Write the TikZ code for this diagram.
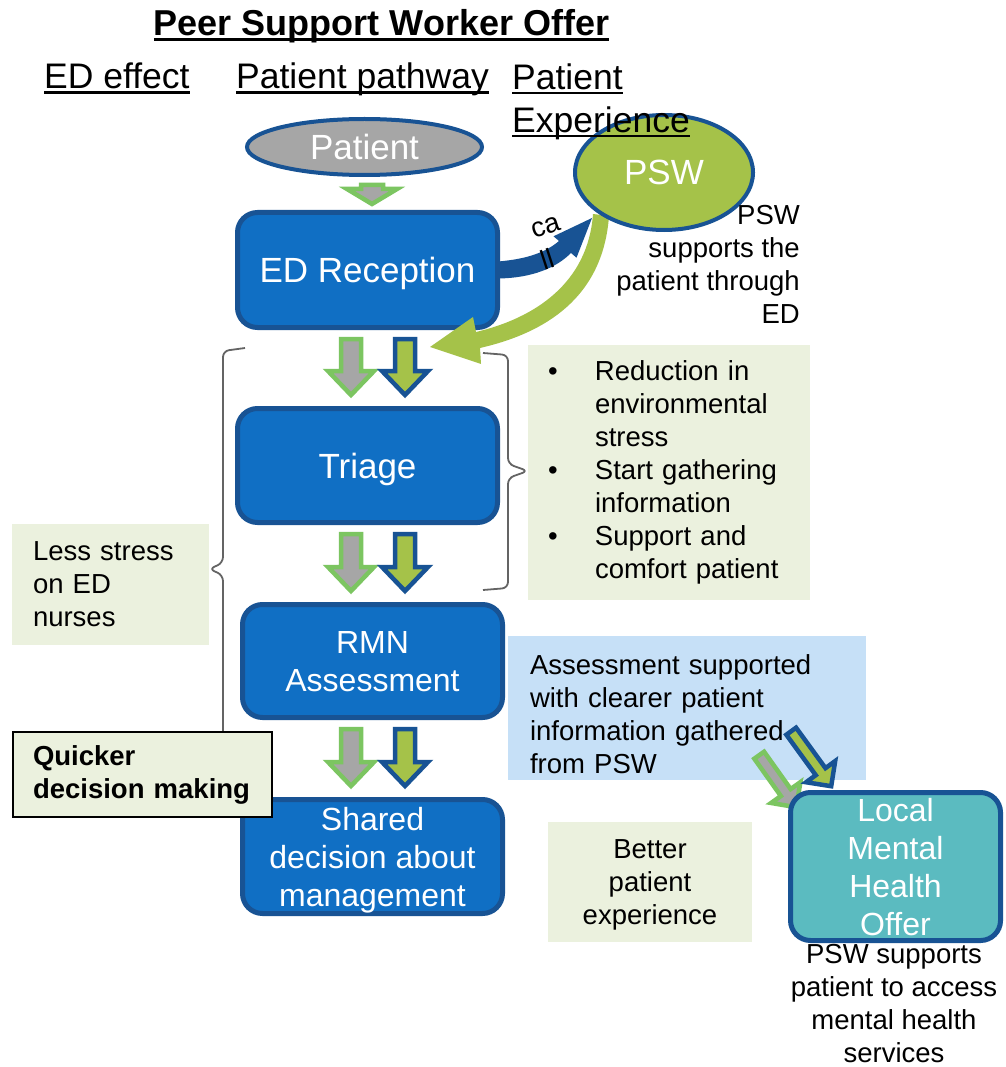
\documentclass[tikz,border=0pt]{standalone}
\usepackage{fontspec}
\setmainfont{Liberation Sans}
\usetikzlibrary{calc,shapes.geometric}

\definecolor{pathblue}{RGB}{16,111,196}
\definecolor{edgeblue}{RGB}{24,83,148}
\definecolor{pswgreen}{RGB}{165,194,73}
\definecolor{rimgreen}{RGB}{124,197,97}
\definecolor{stepgrey}{RGB}{166,166,166}
\definecolor{notegreen}{RGB}{235,241,222}
\definecolor{noteblue}{RGB}{198,224,247}
\definecolor{mhteal}{RGB}{91,187,192}
\definecolor{bracegrey}{RGB}{100,100,100}

\newcommand{\titlesize}{\fontsize{36}{43}\selectfont\bfseries}
\newcommand{\headsize}{\fontsize{35.5}{43}\selectfont}
\newcommand{\pathsize}{\fontsize{35}{42}\selectfont}
\newcommand{\stepsize}{\fontsize{32}{38}\selectfont}
\newcommand{\notesize}{\fontsize{27.5}{33}\selectfont}
\newcommand{\ulined}[2][2.5pt]{\setbox0=\hbox{#2}\rlap{\rule[-5pt]{\wd0}{#1}}\box0}

\tikzset{
    path-box/.style = {draw=edgeblue, fill=pathblue, line width=5pt, rounded corners=20pt, text=white, align=center, minimum width=260pt, inner sep=0pt, text depth=0pt},
    oval/.style = {ellipse, draw=edgeblue, line width=4pt, text=white, inner sep=0pt},
    note-box/.style = {fill=notegreen, inner sep=0pt, font=\notesize},
    head-text/.style = {anchor=base west, inner sep=0pt, font=\headsize},
    grey-arrow/.style = {fill=stepgrey, draw=rimgreen, line width=4.5pt},
    olive-arrow/.style = {fill=pswgreen, draw=edgeblue, line width=4.5pt},
    brace-line/.style = {draw=bracegrey, line width=1.8pt, rounded corners=6pt},
    fat-arrow/.style args = {#1/#2/#3}{to path={
        ($(\tikztostart)!#1!90:(\tikztotarget)$)
        -- ($(\tikztotarget)!#3!(\tikztostart)!#1!-90:(\tikztostart)$)
        -- ($(\tikztotarget)!#3!(\tikztostart)!#2!-90:(\tikztostart)$)
        -- (\tikztotarget)
        -- ($(\tikztotarget)!#3!(\tikztostart)!#2!90:(\tikztostart)$)
        -- ($(\tikztotarget)!#3!(\tikztostart)!#1!90:(\tikztostart)$)
        -- ($(\tikztostart)!#1!-90:(\tikztotarget)$) -- cycle}},
}

\begin{document}
\begin{tikzpicture}[x=1pt, y=-1pt]
\fill[white] (0,0) rectangle (1005,1067);
\useasboundingbox (0,0) rectangle (1005,1067);

\node[font=\titlesize, anchor=base, inner sep=0pt] (title) at (381.5,36) {\ulined[3pt]{Peer Support Worker Offer}};
\node[head-text] (ed-effect) at (44,89) {\ulined{ED effect}};
\node[head-text] (pathway) at (236,89) {\ulined{Patient pathway}};

\draw[brace-line] (245,348) -- (223,351) -- (223,563) -- (209,569) -- (223,575) -- (223,795);
\draw[brace-line] (483,353) -- (508,355) -- (508,464) -- (528,471) -- (508,478) -- (508,588) -- (483,590);

\node[note-box, minimum width=197pt, minimum height=121pt, text width=155pt, align=left] (less-stress) at (110.5,584.5) {Less stress\\on ED\\nurses};
\node[note-box, minimum width=282pt, minimum height=255pt, text width=242pt, align=left] (gains) at (669,472.5) {%
    \begin{tabular}{@{}p{47pt}@{}l@{}}
    \textbullet & Reduction in\\ & environmental\\ & stress\\
    \textbullet & Start gathering\\ & information\\
    \textbullet & Support and\\ & comfort patient
    \end{tabular}};
\node[fill=noteblue, minimum width=358pt, minimum height=144pt] (assess-box) at (687,708) {};
\node[font=\notesize, text width=314pt, align=left, inner sep=0pt] (assess-text) at ($(assess-box.center)+(0,6)$) {Assessment supported\\with clearer patient\\information gathered\\from PSW};
\node[note-box, minimum width=204pt, minimum height=120pt, align=center, text depth=0pt] (better) at (650,882) {Better\\patient\\experience};

\node[oval, fill=stepgrey, minimum width=235pt, minimum height=56pt, font=\pathsize] (patient) at (364.5,147) {Patient};
\node[path-box, minimum height=115pt, font=\pathsize] (reception) at (367.5,270) {ED Reception};
\node[path-box, minimum height=114pt, font=\pathsize] (triage) at (367.5,465.5) {Triage};
\node[path-box, minimum height=113pt, font=\stepsize] (rmn) at (372.5,661) {RMN\\Assessment};
\node[path-box, minimum height=114pt, font=\stepsize] (shared) at (372.5,856.5) {Shared\\decision about\\management};

\coordinate (entry-col) at (372,0);
\coordinate (grey-col) at (351,0);
\coordinate (olive-col) at (405,0);
\coordinate (entry-top) at ($(patient.south -| entry-col)+(0,8)$);
\coordinate (entry-bot) at ($(reception.north -| entry-col)+(0,-6)$);
\draw[grey-arrow] (entry-top) to[fat-arrow=11pt/25pt/15pt] (entry-bot);
\foreach \src/\dst in {reception/triage, triage/rmn, rmn/shared}{
    \coordinate (grey-top) at ($(\src.south -| grey-col)+(0,9)$);
    \coordinate (grey-bot) at ($(\dst.north -| grey-col)+(0,-11)$);
    \coordinate (olive-top) at ($(\src.south -| olive-col)+(0,9)$);
    \coordinate (olive-bot) at ($(\dst.north -| olive-col)+(0,-11)$);
    \draw[grey-arrow] (grey-top) to[fat-arrow=10pt/23pt/24pt] (grey-bot);
    \draw[olive-arrow] (olive-top) to[fat-arrow=10pt/23pt/24pt] (olive-bot);
}

\coordinate (to-mh-a) at ($(assess-box.south east)+(-107,-25)$);
\coordinate (to-mh-b) at ($(assess-box.south east)+(-70,27)$);
\coordinate (to-mh-c) at ($(assess-box.south east)+(-75,-49)$);
\coordinate (to-mh-d) at ($(assess-box.south east)+(-35,6)$);
\draw[grey-arrow] (to-mh-a) to[fat-arrow=6pt/18pt/18pt] (to-mh-b);
\draw[olive-arrow] (to-mh-c) to[fat-arrow=6pt/18pt/18pt] (to-mh-d);
\node[path-box, fill=mhteal, minimum width=210pt, minimum height=148pt, font=\stepsize] (local) at (895.5,866.5) {Local\\Mental\\Health\\Offer};
\node[font=\notesize, align=center, inner sep=0pt] (mh-note) at (894,1004) {PSW supports\\patient to access\\mental health\\services};

\fill[edgeblue] (498,261.5) .. controls (528,259) and (546,252) .. (559,241) -- (553.5,236.3) -- (592,218)
    -- (576.5,257.7) -- (571,253) .. controls (556,268) and (532,278) .. (498,278.5) -- cycle;
\node[font=\notesize, rotate=18, align=left, inner sep=0pt] (call) at (551,243) {ca\\ll};
\fill[pswgreen] (593,214) .. controls (588,283) and (535,318) .. (476,332) -- (473,317) -- (430,347)
    -- (481,364) -- (480,348) .. controls (545,333) and (603,298) .. (609,216) -- cycle;
\node[oval, fill=pswgreen, minimum width=178pt, minimum height=115pt, font=\pathsize] (psw) at (664,172.5) {PSW};
\node[font=\notesize, align=right, anchor=east, inner sep=0pt] (psw-note) at (800,264.5) {PSW\\supports the\\patient through\\ED};
\node[head-text, anchor=north west, align=left] (experience) at (512,63.4) {\ulined{Patient}\\\ulined{Experience}};

\node[note-box, draw=black, line width=2pt, minimum width=259pt, minimum height=85pt, text width=219pt, align=left, font=\notesize\bfseries] (quicker) at (142.5,774.5) {Quicker\\decision making};
\end{tikzpicture}
\end{document}
